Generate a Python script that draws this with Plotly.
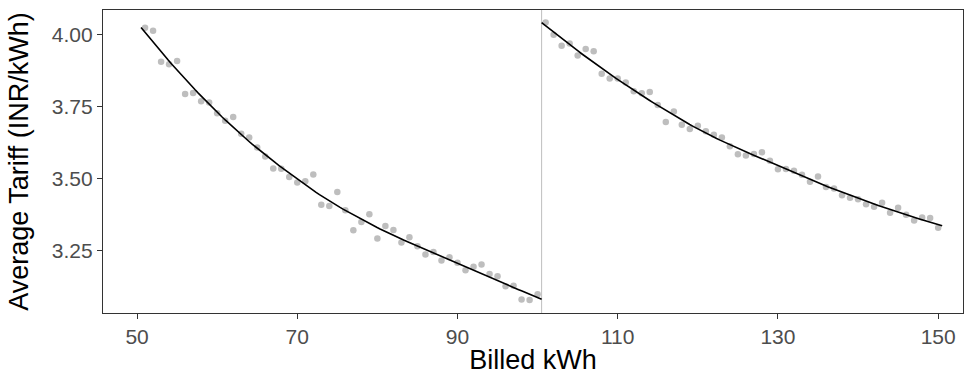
import numpy as np
import plotly.graph_objects as go

# Billed consumption (kWh) and the observed average tariff for each bill size
kwh_below = list(range(51, 101))
tariff_below = [
    4.025, 4.015, 3.907, 3.898, 3.909, 3.794, 3.798, 3.769, 3.765, 3.727,
    3.701, 3.714, 3.656, 3.643, 3.608, 3.576, 3.535, 3.534, 3.505, 3.486,
    3.490, 3.514, 3.408, 3.404, 3.453, 3.389, 3.319, 3.348, 3.375, 3.291,
    3.334, 3.320, 3.277, 3.295, 3.264, 3.235, 3.244, 3.214, 3.225, 3.206,
    3.180, 3.192, 3.200, 3.167, 3.159, 3.124, 3.126, 3.078, 3.076, 3.096,
]
kwh_above = list(range(101, 151))
tariff_above = [
    4.043, 4.001, 3.962, 3.970, 3.928, 3.951, 3.943, 3.865, 3.848, 3.848,
    3.834, 3.804, 3.797, 3.801, 3.756, 3.697, 3.733, 3.687, 3.672, 3.684,
    3.664, 3.652, 3.643, 3.612, 3.584, 3.580, 3.585, 3.591, 3.562, 3.532,
    3.533, 3.527, 3.513, 3.488, 3.507, 3.470, 3.465, 3.441, 3.433, 3.427,
    3.410, 3.401, 3.415, 3.380, 3.398, 3.373, 3.353, 3.364, 3.362, 3.328,
]
cutoff = 100.5
x_ticks = [50, 70, 90, 110, 130, 150]
y_ticks = [3.25, 3.50, 3.75, 4.00]

POINT = "#BEBEBE"
AXIS = "#333333"
LABEL = "#4D4D4D"


def loess(xs, ys, grid, span=0.75):
    """Local quadratic regression with tricube weights."""
    xs = np.asarray(xs, float)
    ys = np.asarray(ys, float)
    q = int(np.floor(span * len(xs)))
    out = []
    for x0 in grid:
        dist = np.abs(xs - x0)
        h = np.sort(dist)[q - 1]
        w = np.clip(1 - (dist / h) ** 3, 0, None) ** 3
        X = np.column_stack([np.ones_like(xs), xs - x0, (xs - x0) ** 2])
        W = np.sqrt(w)
        beta, *_ = np.linalg.lstsq(X * W[:, None], ys * W, rcond=None)
        out.append(beta[0])
    return np.array(out)


fig = go.Figure()

# raw observations
fig.add_trace(go.Scatter(
    x=kwh_below + kwh_above, y=tariff_below + tariff_above, mode="markers",
    marker=dict(color=POINT, size=6.5, line=dict(width=0)),
    showlegend=False, hoverinfo="x+y",
))

# separate smooth fits on each side of the cutoff
for xs, ys, lo, hi in [(kwh_below, tariff_below, 50.5, cutoff),
                       (kwh_above, tariff_above, cutoff, 150.5)]:
    grid = np.linspace(lo, hi, 120)
    fig.add_trace(go.Scatter(
        x=grid, y=loess(xs, ys, grid), mode="lines",
        line=dict(color="black", width=1.6), showlegend=False, hoverinfo="skip",
    ))

fig.add_vline(x=cutoff, line=dict(color="#BEBEBE", width=1), layer="below")

fig.update_layout(
    width=972, height=379,
    margin=dict(l=103, r=9, t=10, b=66),
    paper_bgcolor="white", plot_bgcolor="white",
    font=dict(family="Liberation Sans, Arial, sans-serif"),
)
fig.update_xaxes(
    range=[45.75, 153.1], tickvals=x_ticks, ticktext=[str(v) for v in x_ticks],
    showgrid=False, zeroline=False,
    showline=True, linecolor=AXIS, linewidth=1.2, mirror=True,
    ticks="outside", ticklen=5, tickwidth=1.2, tickcolor=AXIS,
    tickfont=dict(size=21, color=LABEL),
    title=dict(text="Billed kWh", font=dict(size=27, color="black"), standoff=2),
)
fig.update_yaxes(
    range=[3.031, 4.087], tickvals=y_ticks, ticktext=[f"{v:.2f}" for v in y_ticks],
    showgrid=False, zeroline=False,
    showline=True, linecolor=AXIS, linewidth=1.2, mirror=True,
    ticks="outside", ticklen=5, tickwidth=1.2, tickcolor=AXIS,
    tickfont=dict(size=21, color=LABEL),
    title=dict(text="Average Tariff (INR/kWh)", font=dict(size=27, color="black"), standoff=15),
)

fig.write_html("out.html")
